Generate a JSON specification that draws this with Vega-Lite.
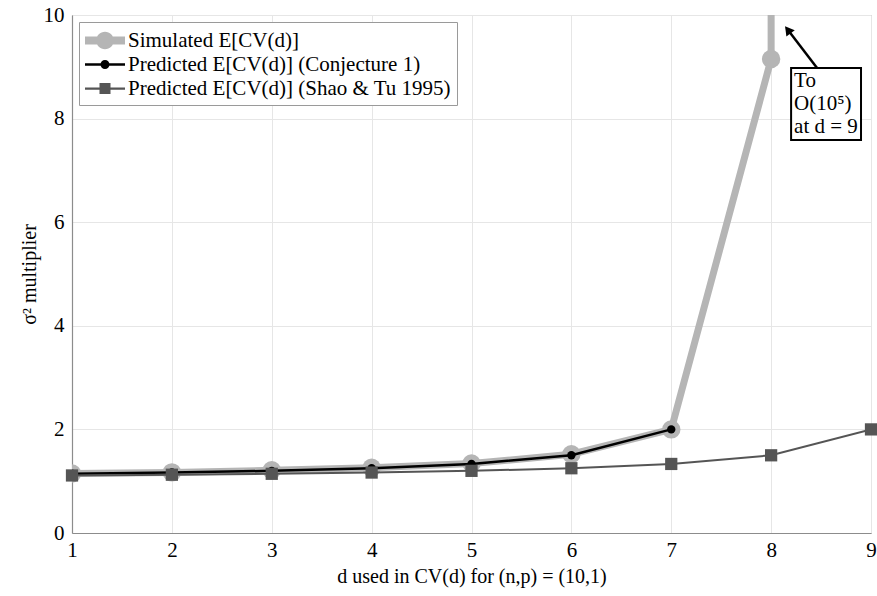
{
  "$schema": "https://vega.github.io/schema/vega-lite/v6.json",
  "width": 799,
  "height": 518,
  "autosize": "none",
  "padding": {"left": 72, "top": 15, "right": 6, "bottom": 63},
  "background": "white",
  "config": {
    "font": "Liberation Serif",
    "view": {"stroke": "#a8a8a8", "strokeWidth": 1},
    "axis": {
      "labelFont": "Liberation Serif",
      "titleFont": "Liberation Serif",
      "labelFontSize": 21,
      "titleFontSize": 20,
      "titleFontWeight": "normal",
      "labelColor": "black",
      "titleColor": "black",
      "gridColor": "#e6e6e6",
      "domainColor": "#8c8c8c",
      "domainWidth": 1.2,
      "ticks": false,
      "labelFlush": false,
      "labelOverlap": false
    },
    "legend": {
      "orient": "top-left",
      "offset": 7,
      "strokeColor": "#9a9a9a",
      "fillColor": "white",
      "padding": 6,
      "labelFont": "Liberation Serif",
      "labelFontSize": 21,
      "labelColor": "black",
      "labelLimit": 600,
      "symbolSize": 625,
      "symbolStrokeWidth": 0,
      "rowPadding": 1,
      "labelOffset": 18
    }
  },
  "datasets": {
    "curves": [
      {"series": "Simulated E[CV(d)]", "d": 1, "value": 1.15},
      {"series": "Simulated E[CV(d)]", "d": 2, "value": 1.17},
      {"series": "Simulated E[CV(d)]", "d": 3, "value": 1.21},
      {"series": "Simulated E[CV(d)]", "d": 4, "value": 1.26},
      {"series": "Simulated E[CV(d)]", "d": 5, "value": 1.34},
      {"series": "Simulated E[CV(d)]", "d": 6, "value": 1.52},
      {"series": "Simulated E[CV(d)]", "d": 7, "value": 2.0},
      {"series": "Simulated E[CV(d)]", "d": 8, "value": 9.15},
      {"series": "Simulated E[CV(d)]", "d": 9, "value": 100000},
      {"series": "Predicted E[CV(d)] (Conjecture 1)", "d": 1, "value": 1.143},
      {"series": "Predicted E[CV(d)] (Conjecture 1)", "d": 2, "value": 1.167},
      {"series": "Predicted E[CV(d)] (Conjecture 1)", "d": 3, "value": 1.2},
      {"series": "Predicted E[CV(d)] (Conjecture 1)", "d": 4, "value": 1.25},
      {"series": "Predicted E[CV(d)] (Conjecture 1)", "d": 5, "value": 1.333},
      {"series": "Predicted E[CV(d)] (Conjecture 1)", "d": 6, "value": 1.5},
      {"series": "Predicted E[CV(d)] (Conjecture 1)", "d": 7, "value": 2.0},
      {"series": "Predicted E[CV(d)] (Shao & Tu 1995)", "d": 1, "value": 1.111},
      {"series": "Predicted E[CV(d)] (Shao & Tu 1995)", "d": 2, "value": 1.125},
      {"series": "Predicted E[CV(d)] (Shao & Tu 1995)", "d": 3, "value": 1.143},
      {"series": "Predicted E[CV(d)] (Shao & Tu 1995)", "d": 4, "value": 1.167},
      {"series": "Predicted E[CV(d)] (Shao & Tu 1995)", "d": 5, "value": 1.2},
      {"series": "Predicted E[CV(d)] (Shao & Tu 1995)", "d": 6, "value": 1.25},
      {"series": "Predicted E[CV(d)] (Shao & Tu 1995)", "d": 7, "value": 1.333},
      {"series": "Predicted E[CV(d)] (Shao & Tu 1995)", "d": 8, "value": 1.5},
      {"series": "Predicted E[CV(d)] (Shao & Tu 1995)", "d": 9, "value": 2.0}
    ],
    "notebox": [{"x": 8.2, "x2": 8.9, "y": 8.977, "y2": 7.587}],
    "notetext": [{"x": 8.23, "y": 8.94, "label": ["To", "O(10⁵)", "at d = 9"]}],
    "arrow": [{"x": 8.46, "y": 8.977, "x2": 8.167, "y2": 9.714}],
    "arrowhead": [{"x": 8.167, "y": 9.714}]
  },
  "encoding": {
    "x": {
      "field": "d",
      "type": "quantitative",
      "scale": {"domain": [1, 9], "nice": false, "zero": false},
      "axis": {"values": [1, 2, 3, 4, 5, 6, 7, 8, 9], "title": "d used in CV(d) for (n,p) = (10,1)", "labelPadding": 6, "titlePadding": 6, "grid": true}
    },
    "y": {
      "field": "value",
      "type": "quantitative",
      "scale": {"domain": [0, 10], "nice": false},
      "axis": {"values": [0, 2, 4, 6, 8, 10], "title": "σ² multiplier", "labelPadding": 8, "titlePadding": 4, "grid": true}
    }
  },
  "layer": [
    {
      "data": {"name": "curves"},
      "transform": [{"filter": "false"}],
      "mark": {"type": "point", "filled": true, "opacity": 1, "strokeWidth": 0},
      "encoding": {
        "color": {
          "field": "series",
          "type": "nominal",
          "scale": {
            "domain": ["Simulated E[CV(d)]", "Predicted E[CV(d)] (Conjecture 1)", "Predicted E[CV(d)] (Shao & Tu 1995)"],
            "range": ["#b5b5b5", "#000000", "#555555"]
          },
          "legend": {"title": null}
        },
        "shape": {
          "field": "series",
          "type": "nominal",
          "scale": {
            "domain": ["Simulated E[CV(d)]", "Predicted E[CV(d)] (Conjecture 1)", "Predicted E[CV(d)] (Shao & Tu 1995)"],
            "range": [
              "M-1,-0.32H2.2V0.32H-1Z M-0.1,0A0.7,0.7 0 1,1 1.3,0A0.7,0.7 0 1,1 -0.1,0Z",
              "M-1,-0.1H2.2V0.1H-1Z M0.24,0A0.36,0.36 0 1,1 0.96,0A0.36,0.36 0 1,1 0.24,0Z",
              "M-1,-0.09H2.2V0.09H-1Z M0.16,-0.44H1.04V0.44H0.16Z"
            ]
          },
          "legend": {"title": null}
        }
      }
    },
    {
      "data": {"name": "curves"},
      "transform": [{"filter": "datum.series === 'Simulated E[CV(d)]'"}],
      "mark": {"type": "line", "color": "#b5b5b5", "strokeWidth": 7, "clip": true}
    },
    {
      "data": {"name": "curves"},
      "transform": [{"filter": "datum.series === 'Simulated E[CV(d)]' && datum.d <= 8"}],
      "mark": {"type": "point", "shape": "circle", "filled": true, "color": "#b5b5b5", "opacity": 1, "size": 340, "clip": true}
    },
    {
      "data": {"name": "curves"},
      "transform": [{"filter": "datum.series === 'Predicted E[CV(d)] (Conjecture 1)'"}],
      "mark": {"type": "line", "color": "#000000", "strokeWidth": 2.5, "clip": true}
    },
    {
      "data": {"name": "curves"},
      "transform": [{"filter": "datum.series === 'Predicted E[CV(d)] (Conjecture 1)'"}],
      "mark": {"type": "point", "shape": "circle", "filled": true, "color": "#000000", "opacity": 1, "size": 70, "clip": true}
    },
    {
      "data": {"name": "curves"},
      "transform": [{"filter": "datum.series === 'Predicted E[CV(d)] (Shao & Tu 1995)'"}],
      "mark": {"type": "line", "color": "#555555", "strokeWidth": 2, "clip": true}
    },
    {
      "data": {"name": "curves"},
      "transform": [{"filter": "datum.series === 'Predicted E[CV(d)] (Shao & Tu 1995)'"}],
      "mark": {"type": "point", "shape": "square", "filled": true, "color": "#555555", "opacity": 1, "size": 150, "clip": false}
    },
    {
      "data": {"name": "notebox"},
      "mark": {"type": "rect", "fill": "white", "stroke": "black", "strokeWidth": 2},
      "encoding": {
        "x": {"field": "x", "type": "quantitative"},
        "x2": {"field": "x2"},
        "y": {"field": "y", "type": "quantitative"},
        "y2": {"field": "y2"}
      }
    },
    {
      "data": {"name": "notetext"},
      "mark": {"type": "text", "align": "left", "baseline": "top", "font": "Liberation Serif", "fontSize": 21, "lineHeight": 23, "color": "black"},
      "encoding": {
        "x": {"field": "x", "type": "quantitative"},
        "y": {"field": "y", "type": "quantitative"},
        "text": {"field": "label"}
      }
    },
    {
      "data": {"name": "arrow"},
      "mark": {"type": "rule", "color": "black", "strokeWidth": 2.5},
      "encoding": {
        "x": {"field": "x", "type": "quantitative"},
        "y": {"field": "y", "type": "quantitative"},
        "x2": {"field": "x2"},
        "y2": {"field": "y2"}
      }
    },
    {
      "data": {"name": "arrowhead"},
      "mark": {"type": "point", "shape": "triangle-up", "filled": true, "color": "black", "opacity": 1, "size": 110, "angle": 322.5},
      "encoding": {
        "x": {"field": "x", "type": "quantitative"},
        "y": {"field": "y", "type": "quantitative"}
      }
    }
  ]
}
